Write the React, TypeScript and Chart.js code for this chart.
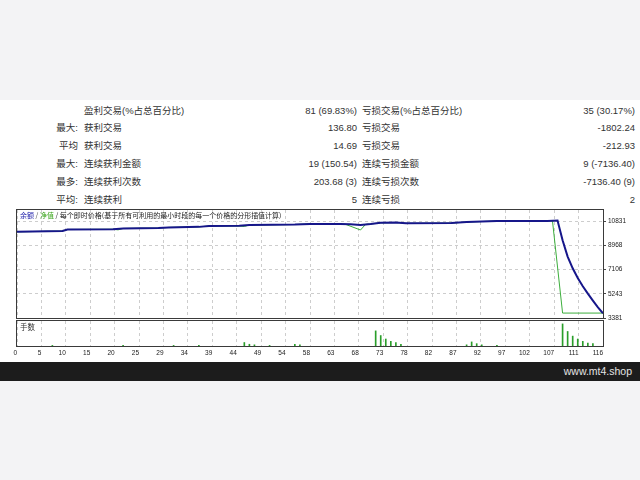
import React, { useEffect, useRef } from 'react';
import { Chart, registerables } from 'chart.js';

Chart.register(...registerables);

// ---------- statistics table ----------
const leftTags = ['', '最大:', '平均', '最大:', '最多:', '平均:'];
const winNames = ['盈利交易(%占总百分比)', '获利交易', '获利交易', '连续获利金额', '连续获利次数', '连续获利'];
const winValues = ['81 (69.83%)', '136.80', '14.69', '19 (150.54)', '203.68 (3)', '5'];
const lossNames = ['亏损交易(%占总百分比)', '亏损交易', '亏损交易', '连续亏损金额', '连续亏损次数', '连续亏损'];
const lossValues = ['35 (30.17%)', '-1802.24', '-212.93', '9 (-7136.40)', '-7136.40 (9)', '2'];

// ---------- balance / equity (trade number -> account value) ----------
const balanceTrade = [0, 9, 10, 19, 21, 28, 30, 36, 38, 44, 46, 55, 58, 64, 66, 68, 70, 72, 75, 77, 86, 89, 92, 95, 105, 107, 108, 109, 110, 111, 112, 113, 114, 115, 116];
const balanceValue = [10000, 10060, 10180, 10200, 10260, 10290, 10340, 10380, 10440, 10460, 10520, 10560, 10610, 10600, 10580, 10530, 10600, 10700, 10720, 10650, 10670, 10750, 10790, 10830, 10840, 10874, 9350, 8100, 7200, 6450, 5820, 5250, 4720, 4200, 3740];

const equityTrade = [0, 9, 10, 19, 20, 21, 28, 30, 36, 38, 44, 45, 46, 55, 58, 64, 65, 68, 69, 70, 72, 75, 77, 86, 89, 92, 95, 106, 108, 116];
const equityValue = [10000, 10060, 10180, 10200, 10150, 10260, 10290, 10340, 10380, 10440, 10440, 10410, 10520, 10560, 10610, 10600, 10580, 10140, 10570, 10600, 10690, 10710, 10650, 10670, 10750, 10790, 10830, 10840, 3760, 3760];

// ---------- lots ----------
const lotTrade = [7, 21, 31, 36, 45, 46, 47, 50, 55, 56, 71, 72, 73, 74, 75, 76, 89, 90, 91, 92, 95, 108, 109, 110, 111, 112, 113, 114];
const lotSize = [0.01, 0.01, 0.01, 0.01, 0.06, 0.03, 0.02, 0.01, 0.03, 0.02, 0.26, 0.18, 0.12, 0.08, 0.06, 0.03, 0.02, 0.07, 0.04, 0.02, 0.01, 0.38, 0.25, 0.17, 0.12, 0.08, 0.05, 0.04];

// ---------- axes ----------
const xTickLabels = ['0', '5', '10', '15', '20', '25', '29', '34', '39', '44', '49', '54', '58', '63', '68', '73', '78', '82', '87', '92', '97', '102', '107', '111', '116'];
const yTickValues = [3381, 5243, 7106, 8968, 10831];
const xMax = 116;
const yMin = 3381;
const yMax = 11676;
const lotMax = 0.43;

const headerParts = [
  { t: '余额', c: '#1a1aa8' },
  { t: ' / ', c: '#444' },
  { t: '净值', c: '#3aa51c' },
  { t: ' / 每个即时价格(基于所有可利用的最小时段的每一个价格的分形插值计算)', c: '#222' },
];

const tickFont = { family: '"Liberation Sans", Arial, sans-serif', size: 6.5 };
const gridColor = '#cdcdcd';

const framePlugin = {
  id: 'frame',
  afterDraw(chart: any) {
    const { ctx, chartArea: a } = chart;
    ctx.save();
    ctx.strokeStyle = '#3a3a3a';
    ctx.lineWidth = 1;
    ctx.strokeRect(Math.round(a.left) - 0.5, Math.round(a.top) - 0.5, Math.round(a.right - a.left) + 1, Math.round(a.bottom - a.top) + 1);
    ctx.restore();
  },
};

const headerPlugin = {
  id: 'header',
  afterDraw(chart: any) {
    const { ctx, chartArea: a } = chart;
    ctx.save();
    ctx.font = '7px "Noto Sans CJK SC", sans-serif';
    ctx.textBaseline = 'middle';
    let x = a.left + 3;
    const y = a.top + 5;
    headerParts.forEach((p) => {
      ctx.fillStyle = p.c;
      ctx.fillText(p.t, x, y);
      x += ctx.measureText(p.t).width;
    });
    ctx.restore();
  },
};

const lotsTitlePlugin = {
  id: 'lotsTitle',
  afterDraw(chart: any) {
    const { ctx, chartArea: a } = chart;
    ctx.save();
    ctx.font = '7.5px "Noto Sans CJK SC", sans-serif';
    ctx.textBaseline = 'middle';
    ctx.fillStyle = '#333';
    ctx.fillText('手数', a.left + 3, a.top + 6);
    ctx.restore();
  },
};

function xScale(showLabels: boolean) {
  return {
    type: 'linear',
    min: 0,
    max: xMax,
    offset: false,
    afterBuildTicks: (s: any) => {
      s.ticks = xTickLabels.map((_l, k) => ({ value: (k * xMax) / (xTickLabels.length - 1) }));
    },
    afterFit: (s: any) => {
      s.height = showLabels ? 14 : 0;
    },
    ticks: {
      display: showLabels,
      autoSkip: false,
      maxRotation: 0,
      minRotation: 0,
      align: 'end',
      padding: 3,
      color: '#222',
      font: tickFont,
      callback: (_v: any, i: number) => xTickLabels[i],
    },
    grid: { color: gridColor, lineWidth: 1, drawTicks: false, offset: false },
    border: { display: false, dash: [3, 3] },
  };
}

export default function App() {
  const mainRef = useRef<HTMLCanvasElement>(null);
  const lotRef = useRef<HTMLCanvasElement>(null);

  useEffect(() => {
    const main = new Chart(mainRef.current as HTMLCanvasElement, {
      type: 'line',
      data: {
        datasets: [
          {
            label: '余额',
            data: balanceTrade.map((x, i) => ({ x, y: balanceValue[i] })),
            borderColor: '#16168a',
            borderWidth: 2,
            pointRadius: 0,
            tension: 0,
            fill: false,
          },
          {
            label: '净值',
            data: equityTrade.map((x, i) => ({ x, y: equityValue[i] })),
            borderColor: '#3cae3c',
            borderWidth: 1,
            pointRadius: 0,
            tension: 0,
            fill: false,
          },
        ],
      },
      options: {
        animation: false,
        responsive: false,
        events: [],
        layout: { padding: { left: 17, top: 10, right: 0, bottom: 7 } },
        plugins: { legend: { display: false }, tooltip: { enabled: false } },
        scales: {
          x: xScale(false) as any,
          y: {
            type: 'linear',
            position: 'right',
            min: yMin,
            max: yMax,
            afterBuildTicks: (s: any) => {
              s.ticks = yTickValues.map((v) => ({ value: v }));
            },
            afterFit: (s: any) => {
              s.width = 37;
            },
            ticks: {
              padding: 2,
              color: '#222',
              font: tickFont,
              callback: (v: any) => String(v),
            },
            grid: { color: gridColor, lineWidth: 1, drawTicks: true, tickLength: 3, tickColor: '#444', tickBorderDash: [] },
            border: { display: false, dash: [3, 3] },
          } as any,
        },
      },
      plugins: [framePlugin, headerPlugin],
    });

    const lots = new Chart(lotRef.current as HTMLCanvasElement, {
      type: 'bar',
      data: {
        datasets: [
          {
            label: '手数',
            data: lotTrade.map((x, i) => ({ x, y: lotSize[i] })),
            backgroundColor: '#2a9e2a',
            borderWidth: 0,
            barThickness: 1,
          } as any,
        ],
      },
      options: {
        animation: false,
        responsive: false,
        events: [],
        layout: { padding: { left: 17, top: 5, right: 0, bottom: 0 } },
        plugins: { legend: { display: false }, tooltip: { enabled: false } },
        scales: {
          x: xScale(true) as any,
          y: {
            type: 'linear',
            position: 'right',
            min: 0,
            max: lotMax,
            afterFit: (s: any) => {
              s.width = 37;
            },
            ticks: { display: false },
            grid: { display: false },
            border: { display: false },
          } as any,
        },
      },
      plugins: [framePlugin, lotsTitlePlugin],
    });

    return () => {
      main.destroy();
      lots.destroy();
    };
  }, []);

  const rowTop = (i: number) => 104.5 + 17.8 * i;
  const txt: React.CSSProperties = {
    position: 'absolute',
    fontFamily: '"Liberation Sans", "Noto Sans CJK SC", sans-serif',
    fontSize: '9.5px',
    lineHeight: '12px',
    color: '#333',
    whiteSpace: 'nowrap',
  };

  return (
    <div style={{ position: 'absolute', left: 0, top: 0, width: 640, height: 480, background: '#f3f3f5', overflow: 'hidden' }}>
      <div style={{ position: 'absolute', left: 0, top: 100, width: 640, height: 262, background: '#ffffff' }} />
      {leftTags.map((t, i) => (
        <div key={'a' + i} style={{ ...txt, left: 0, width: 78, textAlign: 'right', top: rowTop(i) }}>{t}</div>
      ))}
      {winNames.map((t, i) => (
        <div key={'b' + i} style={{ ...txt, left: 84, top: rowTop(i) }}>{t}</div>
      ))}
      {winValues.map((t, i) => (
        <div key={'c' + i} style={{ ...txt, left: 200, width: 157, textAlign: 'right', top: rowTop(i) }}>{t}</div>
      ))}
      {lossNames.map((t, i) => (
        <div key={'d' + i} style={{ ...txt, left: 362, top: rowTop(i) }}>{t}</div>
      ))}
      {lossValues.map((t, i) => (
        <div key={'e' + i} style={{ ...txt, left: 480, width: 155, textAlign: 'right', top: rowTop(i) }}>{t}</div>
      ))}
      <canvas ref={mainRef} width={640} height={125} style={{ position: 'absolute', left: 0, top: 200, width: 640, height: 125, display: 'block' }} />
      <canvas ref={lotRef} width={640} height={44} style={{ position: 'absolute', left: 0, top: 316, width: 640, height: 44, display: 'block' }} />
      <div style={{ position: 'absolute', left: 0, top: 362, width: 640, height: 19, background: '#1c1c1c' }}>
        <div
          style={{
            position: 'absolute',
            right: 8,
            top: 0,
            lineHeight: '19px',
            fontFamily: '"Liberation Sans", Arial, sans-serif',
            fontSize: '10.5px',
            color: '#e4e4e4',
          }}
        >
          www.mt4.shop
        </div>
      </div>
    </div>
  );
}
